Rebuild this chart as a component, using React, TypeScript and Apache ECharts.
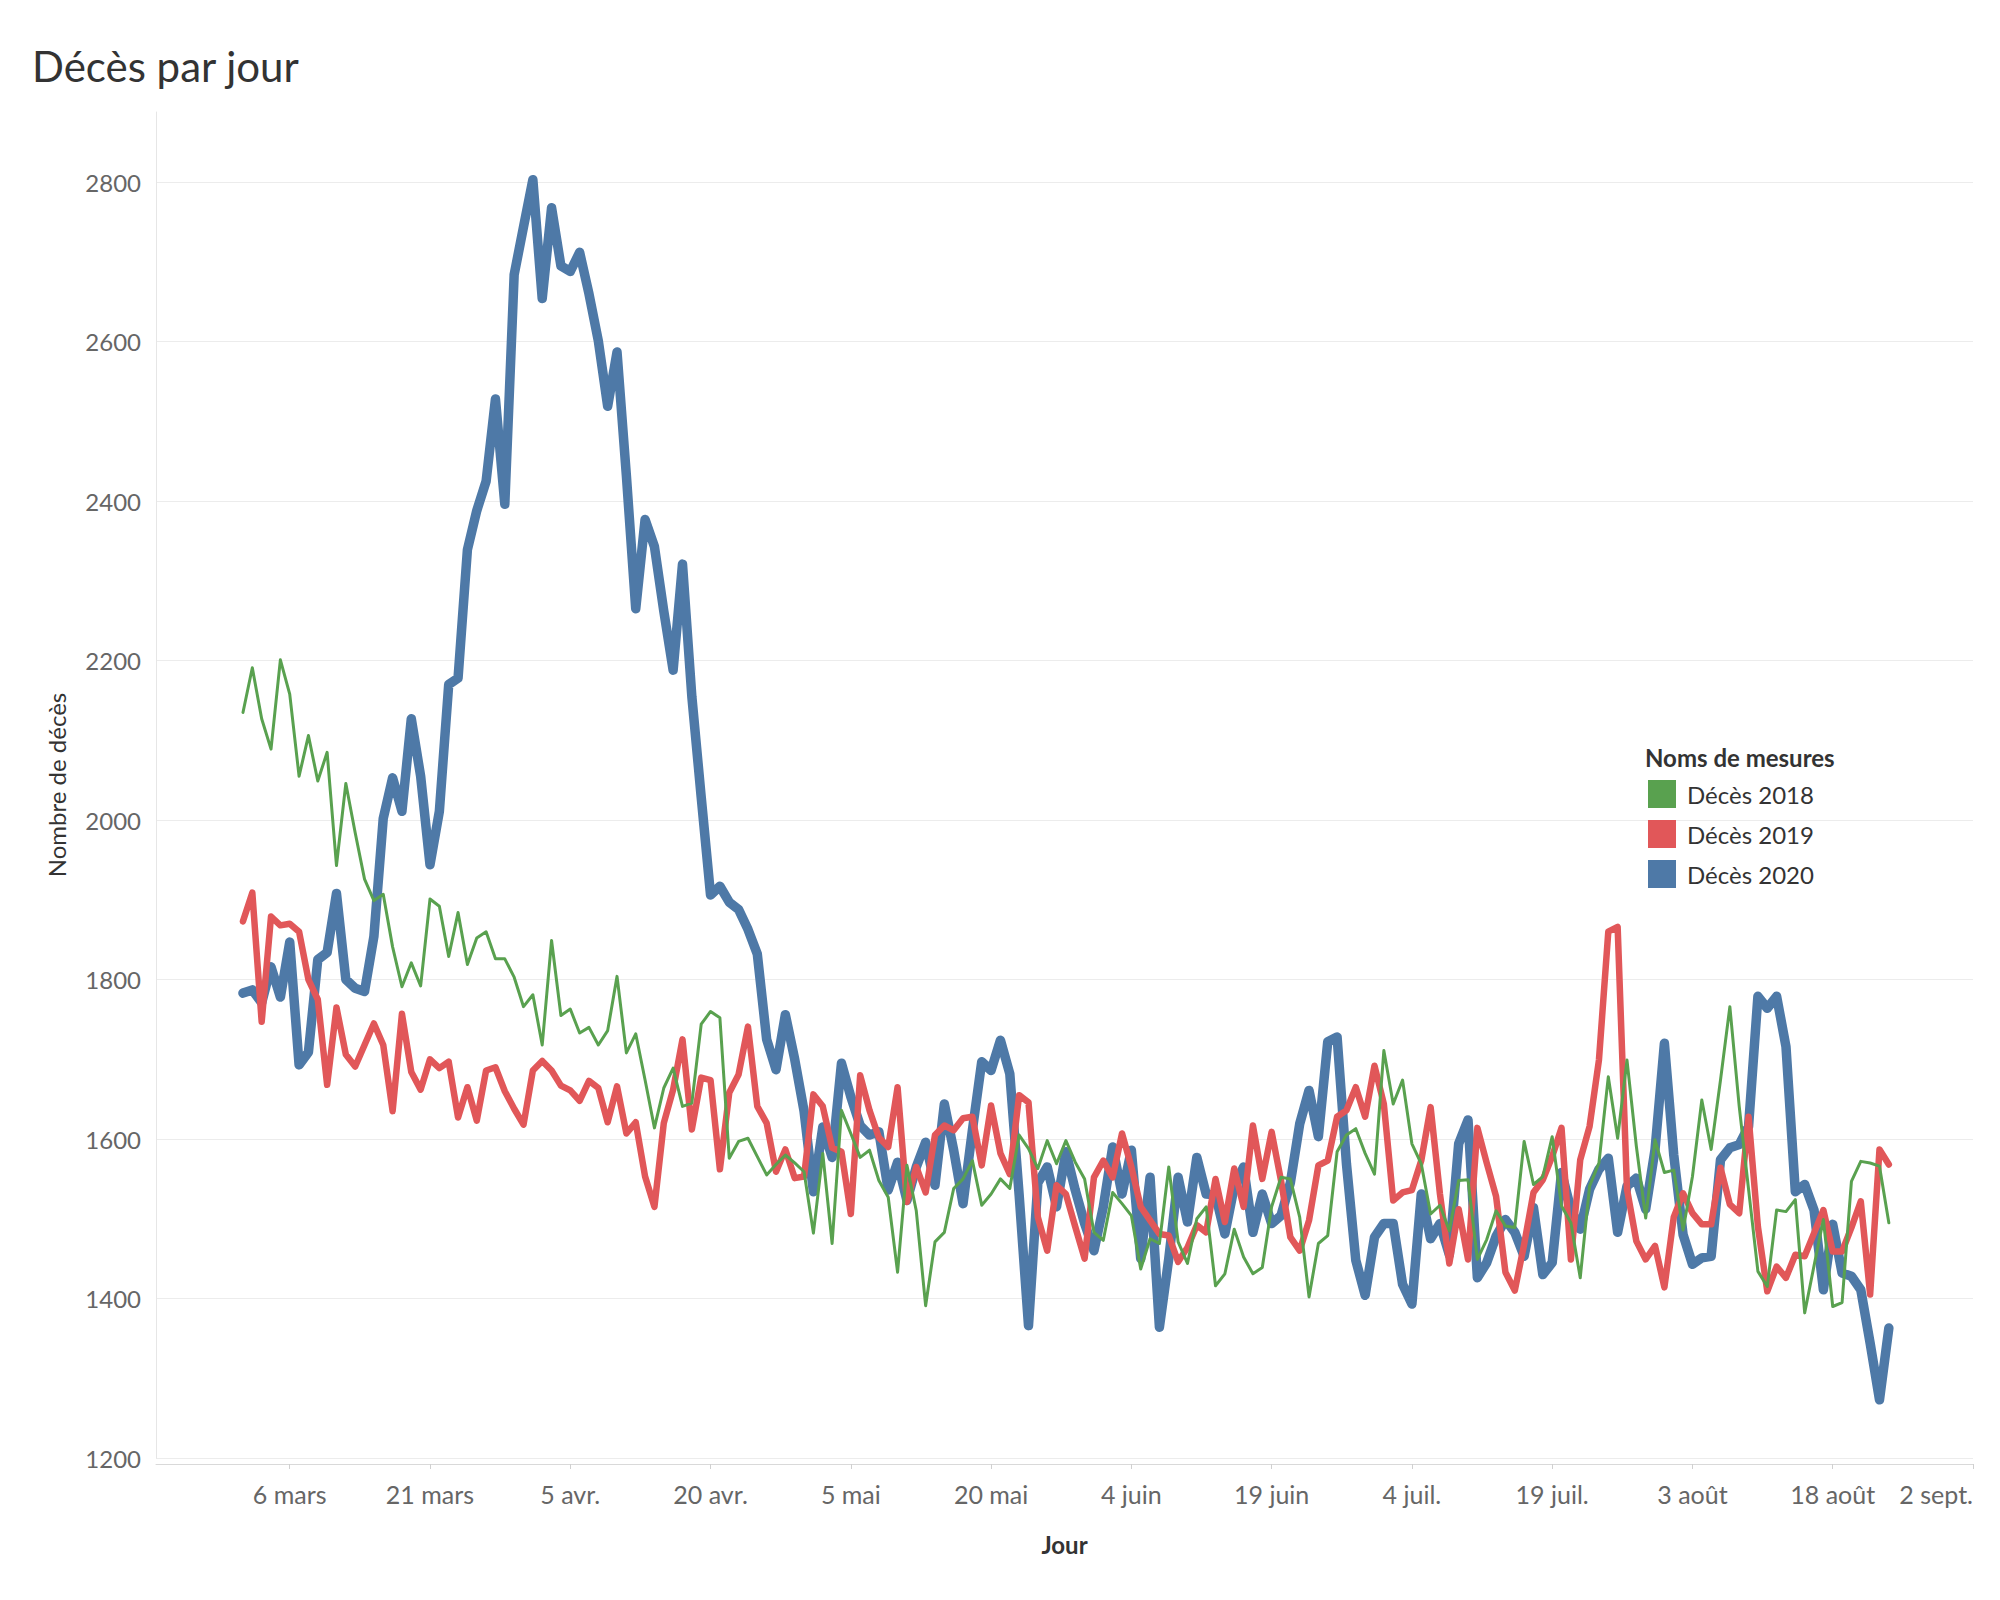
import React, { useEffect, useRef } from "react";
import * as echarts from "echarts";

// Day index 0 = 1 March 2020 (one point per day up to 24 August)
const tickDays = [5, 20, 35, 50, 65, 80, 95, 110, 125, 140, 155, 170, 185];
const tickLabels = ["6 mars", "21 mars", "5 avr.", "20 avr.", "5 mai", "20 mai", "4 juin", "19 juin", "4 juil.", "19 juil.", "3 août", "18 août", "2 sept."];
const legendNames = ["Décès 2018", "Décès 2019", "Décès 2020"];

const deces2018 = [
  2135, 2191, 2127, 2089, 2201, 2158, 2055, 2106, 2049, 2085,
  1943, 2046, 1984, 1926, 1899, 1907, 1841, 1791, 1821, 1792,
  1901, 1892, 1829, 1884, 1819, 1852, 1860, 1826, 1826, 1803,
  1766, 1781, 1718, 1849, 1755, 1763, 1733, 1740, 1718, 1736,
  1804, 1708, 1732, 1674, 1614, 1664, 1689, 1641, 1645, 1744,
  1760, 1752, 1576, 1597, 1601, 1578, 1555, 1568, 1580, 1570,
  1559, 1482, 1582, 1469, 1636, 1607, 1577, 1586, 1548, 1527,
  1433, 1567, 1510, 1391, 1471, 1483, 1538, 1550, 1573, 1517,
  1531, 1550, 1538, 1605, 1588, 1563, 1598, 1569, 1598, 1571,
  1550, 1483, 1473, 1533, 1519, 1504, 1437, 1475, 1469, 1565,
  1471, 1444, 1500, 1515, 1416, 1431, 1487, 1452, 1431, 1439,
  1515, 1552, 1550, 1502, 1402, 1469, 1479, 1584, 1605, 1613,
  1582, 1556, 1711, 1644, 1674, 1594, 1569, 1506, 1517, 1485,
  1548, 1549, 1449, 1474, 1510, 1491, 1489, 1597, 1543, 1553,
  1603, 1516, 1495, 1426, 1541, 1570, 1678, 1601, 1699, 1591,
  1501, 1599, 1558, 1561, 1486, 1553, 1649, 1587, 1674, 1766,
  1641, 1537, 1434, 1415, 1511, 1509, 1524, 1382, 1441, 1499,
  1390, 1395, 1547, 1572, 1570, 1566, 1495,
];

const deces2019 = [
  1873, 1909, 1747, 1879, 1868, 1870, 1860, 1800, 1775, 1668,
  1765, 1706, 1691, 1718, 1745, 1718, 1635, 1757, 1684, 1662,
  1700, 1689, 1697, 1627, 1665, 1623, 1686, 1690, 1660, 1638,
  1618, 1686, 1698, 1686, 1667, 1661, 1648, 1673, 1664, 1621,
  1666, 1607, 1621, 1553, 1515, 1620, 1662, 1725, 1612, 1677,
  1674, 1562, 1658, 1681, 1741, 1641, 1620, 1559, 1587, 1551,
  1553, 1656, 1641, 1589, 1584, 1506, 1680, 1636, 1602, 1590,
  1665, 1521, 1565, 1533, 1605, 1617, 1611, 1626, 1628, 1567,
  1642, 1582, 1556, 1655, 1646, 1502, 1460, 1542, 1531, 1490,
  1450, 1552, 1573, 1552, 1607, 1565, 1515, 1498, 1481, 1479,
  1446, 1464, 1492, 1483, 1550, 1496, 1563, 1515, 1617, 1550,
  1609, 1548, 1477, 1460, 1498, 1567, 1573, 1628, 1636, 1665,
  1628, 1692, 1644, 1523, 1533, 1536, 1573, 1640, 1531, 1444,
  1512, 1449, 1614, 1570, 1528, 1433, 1410, 1468, 1533, 1549,
  1578, 1614, 1449, 1574, 1616, 1699, 1860, 1866, 1537, 1472,
  1449, 1466, 1414, 1502, 1532, 1507, 1493, 1493, 1564, 1518,
  1507, 1628, 1490, 1409, 1440, 1426, 1455, 1453, 1482, 1511,
  1459, 1459, 1489, 1522, 1405, 1587, 1568,
];

const deces2020 = [
  1783, 1787, 1771, 1816, 1778, 1847, 1693, 1709, 1825, 1834,
  1908, 1800, 1789, 1785, 1854, 2002, 2053, 2011, 2127, 2055,
  1944, 2011, 2170, 2178, 2339, 2388, 2425, 2528, 2396, 2684,
  2744, 2803, 2654, 2768, 2695, 2688, 2712, 2660, 2601, 2519,
  2587, 2432, 2265, 2377, 2343, 2262, 2188, 2321, 2155, 2029,
  1906, 1917, 1897, 1888, 1863, 1832, 1725, 1687, 1756, 1700,
  1635, 1534, 1615, 1577, 1695, 1653, 1617, 1605, 1609, 1536,
  1571, 1523, 1565, 1596, 1542, 1644, 1586, 1519, 1611, 1697,
  1686, 1724, 1682, 1530, 1366, 1545, 1565, 1515, 1584, 1536,
  1494, 1460, 1515, 1590, 1531, 1586, 1450, 1552, 1364, 1450,
  1552, 1496, 1577, 1531, 1530, 1481, 1540, 1565, 1483, 1531,
  1494, 1504, 1545, 1619, 1661, 1603, 1722, 1728, 1569, 1448,
  1404, 1477, 1494, 1494, 1418, 1393, 1531, 1475, 1494, 1455,
  1594, 1624, 1426, 1445, 1478, 1499, 1483, 1453, 1514, 1430,
  1445, 1558, 1512, 1487, 1537, 1562, 1576, 1483, 1541, 1551,
  1512, 1587, 1720, 1580, 1480, 1443, 1451, 1453, 1574, 1589,
  1593, 1616, 1779, 1764, 1779, 1716, 1534, 1543, 1511, 1411,
  1493, 1432, 1428, 1411, 1344, 1273, 1363,
];

const COLORS = { g: "#59a14f", r: "#e15759", b: "#4e79a7" };
const FONT = "Lato, 'Noto Sans', sans-serif";

function toPoints(arr: number[]) {
  return arr.map((v, i) => [i, v]);
}

export default function App() {
  const ref = useRef<HTMLDivElement>(null);

  useEffect(() => {
    if (!ref.current) return;
    const chart = echarts.init(ref.current, undefined, { renderer: "svg" });
    const mkSeries = (name: string, data: number[], color: string, width: number, z: number) => ({
      name,
      type: "line",
      data: toPoints(data),
      showSymbol: false,
      symbol: "none",
      silent: true,
      z,
      itemStyle: { color },
      lineStyle: { color, width, cap: "round", join: "round" },
      emphasis: { disabled: true },
    });

    chart.setOption({
      animation: false,
      backgroundColor: "#ffffff",
      textStyle: { fontFamily: FONT },
      title: {
        text: "Décès par jour",
        left: 32,
        top: 45,
        padding: 0,
        textStyle: { fontFamily: FONT, fontSize: 42, fontWeight: "normal", color: "#333333" },
      },
      graphic: [
        {
          type: "text",
          left: 1645,
          top: 745,
          style: { text: "Noms de mesures", font: `bold 24px ${FONT}`, fill: "#333333" },
        },
      ],
      legend: {
        data: legendNames,
        orient: "vertical",
        left: 1648,
        top: 780,
        padding: 0,
        itemWidth: 28,
        itemHeight: 28,
        itemGap: 12,
        icon: "rect",
        itemStyle: { borderWidth: 0 },
        selectedMode: false,
        textStyle: { fontFamily: FONT, fontSize: 24, color: "#333333", padding: [0, 0, 0, 6] },
      },
      grid: { left: 156, right: 27, top: 112, bottom: 142, containLabel: false },
      xAxis: {
        type: "value",
        min: -9.3,
        max: 185,
        offset: 6,
        name: "Jour",
        nameLocation: "middle",
        nameGap: 68,
        nameTextStyle: { fontFamily: FONT, fontSize: 24, fontWeight: "bold", color: "#333333" },
        axisLine: { show: true, onZero: false, lineStyle: { color: "#d9d9d9", width: 1 } },
        axisTick: { show: true, length: 5, customValues: tickDays, lineStyle: { color: "#d0d0d0" } },
        axisLabel: {
          customValues: tickDays,
          margin: 17,
          fontFamily: FONT,
          fontSize: 25,
          color: "#666666",
          alignMaxLabel: "right",
          formatter: (v: number) => {
            const i = tickDays.indexOf(Math.round(v));
            return i >= 0 ? tickLabels[i] : "";
          },
        },
        splitLine: { show: false },
      },
      yAxis: {
        type: "value",
        min: 1200,
        max: 2888,
        interval: 200,
        name: "Nombre de décès",
        nameLocation: "middle",
        nameGap: 88,
        nameRotate: 90,
        nameTextStyle: { fontFamily: FONT, fontSize: 24, color: "#333333" },
        axisLine: { show: true, onZero: false, lineStyle: { color: "#e6e6e6", width: 1 } },
        axisTick: { show: false },
        axisLabel: {
          showMaxLabel: false,
          margin: 15,
          fontFamily: FONT,
          fontSize: 24,
          color: "#666666",
          formatter: (v: number) => String(v),
        },
        splitLine: { show: true, showMaxLine: false, lineStyle: { color: "#ececec", width: 1 } },
      },
      series: [
        mkSeries("Décès 2020", deces2020, COLORS.b, 9.5, 2),
        mkSeries("Décès 2019", deces2019, COLORS.r, 6.5, 3),
        mkSeries("Décès 2018", deces2018, COLORS.g, 3, 4),
      ],
    });
    return () => chart.dispose();
  }, []);

  return (
    <div
      ref={ref}
      style={{ position: "absolute", left: 0, top: 0, width: 2000, height: 1600, background: "#fff" }}
    />
  );
}
